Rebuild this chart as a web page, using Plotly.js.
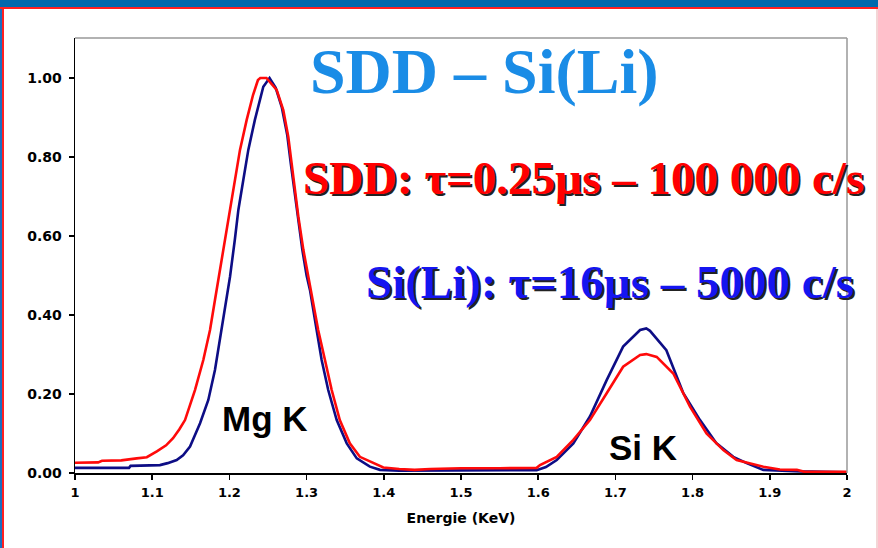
<!DOCTYPE html>
<html><head><meta charset="utf-8">
<script src="https://cdn.plot.ly/plotly-3.0.1.min.js"></script>
<style>
html,body{margin:0;padding:0;background:#fff;overflow:hidden}
#wrap{position:relative;width:878px;height:548px}
#chart{position:absolute;left:0;top:0;width:878px;height:548px}
.deco{position:absolute;pointer-events:none}
</style></head><body>
<div id="wrap"><div id="chart"></div>
<div class="deco" style="left:0;top:0;width:878px;height:7px;background:#0069ad"></div>
<div class="deco" style="left:0;top:7px;width:878px;height:2px;background:#ff2020"></div>
<div class="deco" style="left:0;top:9px;width:2px;height:539px;background:#1a6fc0"></div>
<div class="deco" style="left:2px;top:9px;width:2px;height:539px;background:#ff2020"></div>
<div class="deco" style="left:876px;top:9px;width:2px;height:539px;background:#f3d6d6"></div>
</div>
<script>
// ---- data ----
const sddEnergy = [1.000,1.030,1.035,1.060,1.080,1.093,1.106,1.118,1.127,1.135,1.1425,1.149,1.1554,1.1662,1.1749,1.1813,1.1878,1.194,1.2008,1.207,1.2137,1.2224,1.2306,1.237,1.240,1.248,1.2612,1.2698,1.2763,1.2806,1.285,1.2893,1.2958,1.302,1.3087,1.315,1.3238,1.3325,1.343,1.356,1.369,1.3864,1.3994,1.42,1.44,1.46,1.50,1.55,1.598,1.6023,1.624,1.6455,1.667,1.6887,1.710,1.732,1.740,1.7535,1.775,1.7966,1.818,1.8398,1.857,1.8916,1.913,1.935,1.945,2.000];
const sddCounts = [0.026,0.027,0.031,0.032,0.037,0.040,0.055,0.070,0.088,0.110,0.134,0.170,0.210,0.286,0.362,0.438,0.514,0.590,0.666,0.742,0.818,0.894,0.957,0.995,1.000,1.000,0.970,0.919,0.851,0.784,0.716,0.649,0.565,0.500,0.438,0.362,0.286,0.210,0.134,0.075,0.041,0.025,0.014,0.010,0.008,0.010,0.012,0.012,0.013,0.020,0.041,0.084,0.134,0.202,0.269,0.299,0.301,0.294,0.252,0.168,0.100,0.058,0.033,0.016,0.009,0.008,0.003,0.003];

const siliEnergy = [1.000,1.070,1.072,1.110,1.120,1.1317,1.140,1.149,1.162,1.1727,1.1813,1.1878,1.194,1.2008,1.207,1.2116,1.218,1.2245,1.233,1.2439,1.252,1.260,1.268,1.275,1.2795,1.284,1.288,1.2945,1.300,1.3044,1.313,1.3195,1.328,1.339,1.352,1.365,1.382,1.395,1.42,1.50,1.598,1.610,1.624,1.6455,1.667,1.6887,1.710,1.732,1.740,1.7448,1.766,1.788,1.8096,1.831,1.8527,1.870,1.8916,1.94,2.000];
const siliCounts = [0.013,0.013,0.018,0.020,0.025,0.033,0.045,0.067,0.126,0.185,0.261,0.337,0.413,0.497,0.590,0.666,0.742,0.818,0.894,0.978,1.000,0.975,0.925,0.855,0.784,0.716,0.649,0.565,0.500,0.463,0.362,0.286,0.210,0.134,0.075,0.037,0.016,0.008,0.006,0.006,0.007,0.015,0.033,0.075,0.143,0.235,0.320,0.362,0.366,0.360,0.311,0.202,0.134,0.075,0.041,0.025,0.008,0.004,0.002];

const xTickVals = [1,1.1,1.2,1.3,1.4,1.5,1.6,1.7,1.8,1.9,2];
const xTickText = ["1","1.1","1.2","1.3","1.4","1.5","1.6","1.7","1.8","1.9","2"];
const yTickVals = [0,0.2,0.4,0.6,0.8,1.0];
const yTickText = ["0.00","0.20","0.40","0.60","0.80","1.00"];

const titleText = "SDD – Si(Li)";
const sddLabel = "SDD: τ=0.25µs – 100 000 c/s";
const siliLabel = "Si(Li): τ=16µs – 5000 c/s";
const peakLabels = ["Mg K","Si K"];
const xAxisTitle = "Energie (KeV)";

// ---- layout helpers (pixel -> paper) ----
const L=75, R=847, T=38, B=473;
const px = p => (p-L)/(R-L);
const py = p => (B-p)/(B-T);

const traces = [
  {x: siliEnergy, y: siliCounts, type:'scatter', mode:'lines', name:'Si(Li)',
   line:{color:'#0d0d85', width:2.6}, hoverinfo:'skip'},
  {x: sddEnergy, y: sddCounts, type:'scatter', mode:'lines', name:'SDD',
   line:{color:'#ff0a0a', width:2.6}, hoverinfo:'skip'}
];

const serif = 'Liberation Serif, Times New Roman, serif';
const annotations = [
  {xref:'paper', yref:'paper', x:px(484), y:py(71), xanchor:'center', yanchor:'middle', showarrow:false,
   text:'<b>'+titleText+'</b>', font:{family:serif, size:64, color:'#1a8ce6'}},
  {xref:'paper', yref:'paper', x:px(583), y:py(178), xanchor:'center', yanchor:'middle', showarrow:false,
   text:'<b>'+sddLabel+'</b>', font:{family:serif, size:47, color:'#ff0000', shadow:'2px 2px 0px #222'}},
  {xref:'paper', yref:'paper', x:px(610), y:py(282), xanchor:'center', yanchor:'middle', showarrow:false,
   text:'<b>'+siliLabel+'</b>', font:{family:serif, size:47, color:'#1515f0', shadow:'2px 2px 0px #222'}},
  {xref:'paper', yref:'paper', x:px(265), y:py(418), xanchor:'center', yanchor:'middle', showarrow:false,
   text:'<b>'+peakLabels[0]+'</b>', font:{family:'Liberation Sans, Arial, sans-serif', size:35, color:'#000'}},
  {xref:'paper', yref:'paper', x:px(643), y:py(447), xanchor:'center', yanchor:'middle', showarrow:false,
   text:'<b>'+peakLabels[1]+'</b>', font:{family:'Liberation Sans, Arial, sans-serif', size:35, color:'#000'}}
];

const layout = {
  width:878, height:548,
  margin:{l:L, r:878-R, t:T, b:548-B, pad:0},
  paper_bgcolor:'#ffffff', plot_bgcolor:'#ffffff',
  showlegend:false,
  xaxis:{range:[1,2], tickvals:xTickVals, ticktext:xTickText, ticks:'outside', ticklen:5, tickwidth:1.5,
    tickcolor:'#000', showline:true, linecolor:'#000', linewidth:1.5, showgrid:false, zeroline:false,
    tickfont:{family:'DejaVu Sans, Verdana, sans-serif', size:13, color:'#000', weight:'bold'},
    ticklabelstandoff:2,
    title:{text:'<b>'+xAxisTitle+'</b>', standoff:14, font:{family:'DejaVu Sans, Verdana, sans-serif', size:14, color:'#000'}},
    fixedrange:true, automargin:false},
  yaxis:{range:[0,1.1013], tickvals:yTickVals, ticktext:yTickText, ticks:'outside', ticklen:5, tickwidth:1.5,
    tickcolor:'#000', showline:true, linecolor:'#000', linewidth:1.5, showgrid:false, zeroline:false,
    tickfont:{family:'DejaVu Sans, Verdana, sans-serif', size:14, color:'#000', weight:'bold'},
    ticklabelstandoff:4,
    fixedrange:true, automargin:false},
  shapes:[
    {type:'line', xref:'paper', yref:'paper', x0:0, x1:1, y0:1, y1:1, line:{color:'#999', width:1.5}},
    {type:'line', xref:'paper', yref:'paper', x0:1, x1:1, y0:0, y1:1, line:{color:'#999', width:1.5}}
  ],
  annotations: annotations
};

Plotly.newPlot('chart', traces, layout, {staticPlot:true, displayModeBar:false});
</script>
</body></html>
